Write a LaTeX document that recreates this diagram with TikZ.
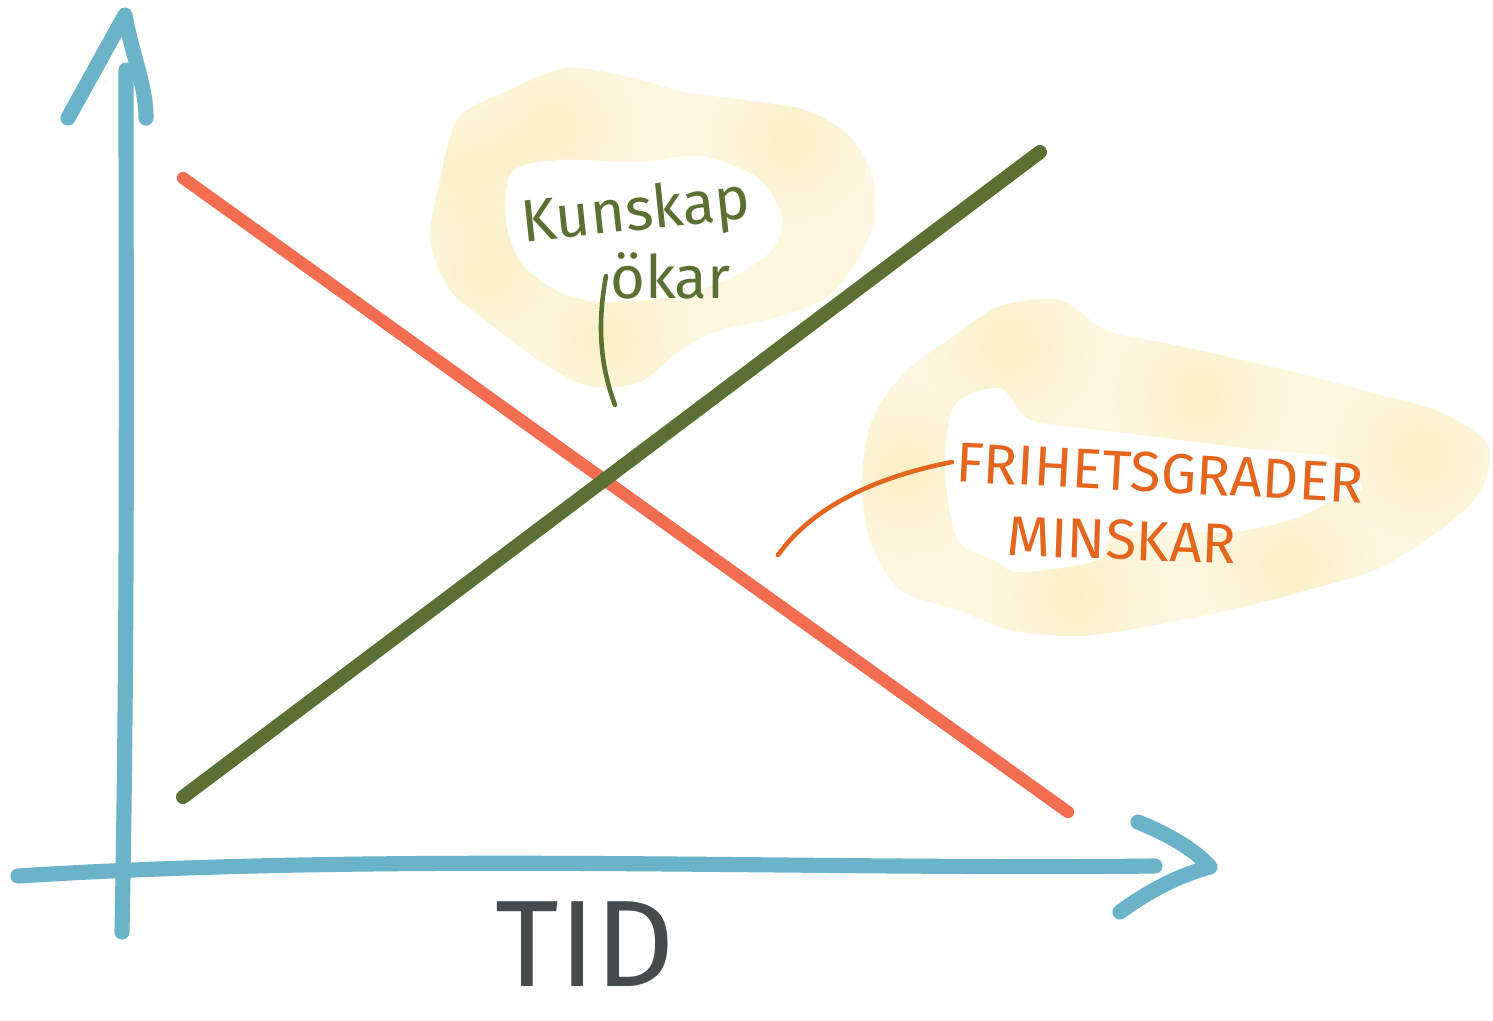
\documentclass[tikz,border=0pt]{standalone}
\usepackage{fontspec}
\setmainfont{Fira Sans}
\usepackage{tikz}
\usetikzlibrary{fadings,positioning}
\definecolor{axisblue}{HTML}{6BB3C9}
\definecolor{redline}{HTML}{F36E50}
\definecolor{greenline}{HTML}{5B7134}
\definecolor{inkorange}{HTML}{E4661E}
\definecolor{inkgray}{HTML}{464B4E}
\definecolor{cloudpale}{HTML}{FDF7E0}
\definecolor{cloudspot}{HTML}{FAEBB6}
\tikzfading[name=blob, inner color=transparent!35, outer color=transparent!100]
\tikzset{
        pen/.style={line cap=round, line join=round}, % marker-like ends
        axis/.style={pen, draw=axisblue, line width=4.3pt}, % blue axes and their heads
        trend/.style={pen, line width=#1}, % the two crossing lines
        leader/.style={pen, line width=1.3pt}, % thin pointer from a note
        spot/.style={cloudspot, path fading=blob}, % darker patch in a highlight
    }
\tikzstyle{note}=[inner sep=1pt, font=\fontsize{17}{19}\selectfont]
\def\cloudA{plot[smooth cycle] coordinates {(440,180) (458,118) (505,92) (565,68) (625,76) (685,92) (745,100) (805,110) (848,135) (872,175) (874,222) (856,262) (826,298) (775,318) (720,330) (678,352) (640,382) (588,386) (538,360) (488,322) (450,290) (430,240)}}
\def\holeA{plot[smooth cycle] coordinates {(512,172) (560,160) (640,162) (700,156) (758,178) (782,218) (770,252) (722,282) (662,298) (602,302) (560,292) (522,264) (506,222)}}
\def\cloudB{plot[smooth cycle] coordinates {(872,420) (905,372) (960,332) (1000,306) (1060,300) (1105,330) (1160,342) (1225,356) (1295,372) (1370,392) (1440,412) (1488,445) (1480,492) (1440,530) (1380,568) (1300,592) (1230,610) (1150,626) (1080,636) (1010,630) (958,610) (900,590) (870,540) (862,480)}}
\def\holeB{plot[smooth cycle] coordinates {(955,405) (1000,388) (1030,420) (1100,430) (1180,440) (1260,450) (1335,458) (1362,488) (1330,502) (1290,520) (1230,532) (1120,532) (1098,560) (1020,572) (995,560) (958,540) (945,470)}}

\begin{document}
\begin{tikzpicture}[x=0.01cm, y=-0.01cm]
    \fill[white] (0,0) rectangle (1493,1020);
    \useasboundingbox (0,0) rectangle (1493,1020);

    % highlights behind the notes
    \fill[cloudpale] \cloudA;
    \begin{scope}
        \clip \cloudA;
        \foreach \x/\y in {553/127, 790/140, 470/175, 490/270, 610/340}
            \fill[spot] (\x,\y) circle (0.8cm);
    \end{scope}
    \fill[white] \holeA;

    \fill[cloudpale] \cloudB;
    \begin{scope}
        \clip \cloudB;
        \foreach \x/\y in {1075/595, 905/470, 1290/565, 1420/455, 1010/345, 1200/395}
            \fill[spot] (\x,\y) circle (0.85cm);
    \end{scope}
    \fill[white] \holeB;

    % axes
    \coordinate (ybot) at (122,932);
    \coordinate (ytop) at (126,70);
    \coordinate (xleft) at (18,876);
    \coordinate (xright) at (1155,866);
    \draw[axis] (ybot) .. controls (128,620) and (126,330) .. (ytop);
    \draw[axis] (68,118) -- (125,15) .. controls (132,55) and (146,85) .. (146,118);
    \draw[axis] (xleft) .. controls (400,852) and (800,870) .. (xright);
    \draw[axis] (1138,822) .. controls (1170,835) and (1195,850) .. (1210,867) .. controls (1180,875) and (1150,890) .. (1120,912);

    % the two trends
    \coordinate (rstart) at (183,178);
    \coordinate (rend) at (1068,812);
    \coordinate (gstart) at (183,797);
    \coordinate (gend) at (1040,152);
    \draw[trend=3.5pt, redline] (rstart) -- (rend);
    \draw[trend=4pt, greenline] (gstart) -- (gend);

    % notes and their pointers
    \node[note, greenline, rotate=6] (kunskap) at (636,214) {Kunskap};
    \node[note, greenline, anchor=west] (okar) at (606,276) {ökar};
    \coordinate (ktip) at (615,405);
    \draw[leader, greenline] (okar.west) .. controls (596,330) and (602,370) .. (ktip);

    \node[note, inkorange, font=\fontsize{16}{18}\selectfont, anchor=west, rotate=-3] (frihet) at (952,462) {FRIHETSGRADER};
    \node[note, inkorange, font=\fontsize{16}{18}\selectfont, anchor=west, rotate=-2] (minskar) at (1003,536) {MINSKAR};
    \coordinate (ftip) at (778,555);
    \draw[leader, inkorange] (frihet.west) .. controls (870,478) and (810,510) .. (ftip);

    \node[inkgray, font=\fontsize{35}{38}\selectfont, inner sep=0pt] (tid) at (585,944) {TID};
\end{tikzpicture}
\end{document}
